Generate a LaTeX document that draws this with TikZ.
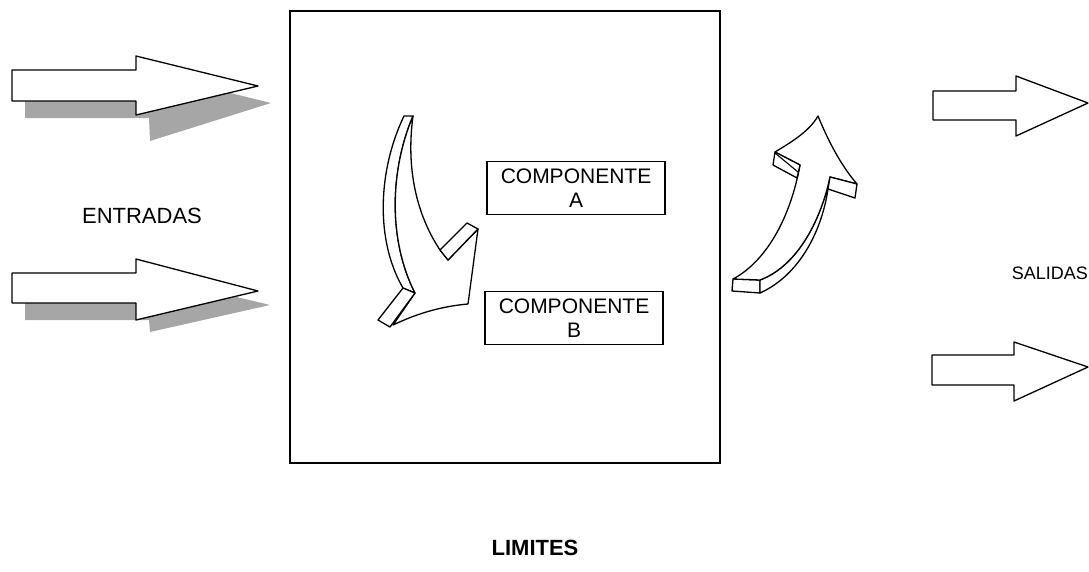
\documentclass[tikz,border=0pt]{standalone}
\usepackage{fontspec}
\setmainfont{Liberation Sans}
\begin{document}
\begin{tikzpicture}[x=1pt,y=-1pt,
  outline/.style={draw=black, line width=1.3pt, fill=white, line join=round},
  shadowfill/.style={fill=black!35, draw=none},
  label/.style={font=\fontsize{22}{25}\selectfont, align=center, inner sep=0pt},
  compbox/.style={draw=black, line width=1.3pt, minimum width=178pt, minimum height=53pt, font=\fontsize{21}{24}\selectfont, align=center, inner sep=0pt}]
\useasboundingbox (0,0) rectangle (1089,571);

% system boundary
\node[draw=black, line width=1.3pt, minimum width=430pt, minimum height=452pt, inner sep=0pt] (sys) at (505,237) {};

% components
\node[compbox] (ca) at (576,188) {COMPONENTE\\A};
\node[compbox] (cb) at (574,318) {COMPONENTE\\B};

% labels
\node[label] (ent) at (142,216) {ENTRADAS};
\node[label, font=\fontsize{18}{21}\selectfont, anchor=east] (sal) at (1088,273) {SALIDAS};
\node[label, font=\fontsize{22}{25}\selectfont\bfseries] (lim) at (535,548) {LIMITES};

% input arrows with shadows
\fill[shadowfill] (25,87) -- (149,87) -- (149,73) -- (271,103) -- (150,141) -- (149,118) -- (25,118) -- cycle;
\path[outline] (12,70) -- (136,70) -- (136,56) -- (258,86) -- (136,115) -- (136,101) -- (12,101) -- cycle;
\fill[shadowfill] (25,290) -- (149,290) -- (149,276) -- (270,305) -- (150,332) -- (149,320) -- (25,320) -- cycle;
\path[outline] (12,273) -- (136,273) -- (136,259) -- (258,291) -- (136,320) -- (136,303) -- (12,303) -- cycle;

% output arrows
\path[outline] (933,91) -- (1016,91) -- (1016,76) -- (1088,103) -- (1016,136) -- (1016,120) -- (933,120) -- cycle;
\path[outline] (932,355) -- (1014,355) -- (1014,342) -- (1088,367) -- (1014,401) -- (1014,385) -- (932,385) -- cycle;

% curved arrow from A to B
\path[outline] (404,116) .. controls (378,170) and (375,240) .. (403,288) -- (415,293)
  .. controls (388,240) and (390,170) .. (413,116) -- cycle;
\path[outline] (413,116) .. controls (390,170) and (388,240) .. (415,293) -- (393,325)
  .. controls (420,312) and (445,306) .. (468,304) -- (478,229) -- (448,260) -- (440,250)
  .. controls (420,220) and (405,175) .. (413,116) -- cycle;
\path[outline] (440,250) -- (467,223) -- (478,229) -- (448,260) -- cycle;
\path[outline] (403,288) -- (378,320) -- (390,327) -- (415,293) -- cycle;

% curved arrow from B to A
\path[outline] (733,279) -- (732,291) -- (760,293) -- (760,280) -- cycle;
\path[outline] (760,280) -- (760,293) .. controls (800,275) and (822,230) .. (828,189)
  -- (830,177) .. controls (822,215) and (800,265) .. (760,280) -- cycle;
\path[outline] (818,116) .. controls (832,150) and (845,170) .. (857,184) -- (830,177)
  .. controls (822,215) and (800,265) .. (760,280) -- (733,279)
  .. controls (765,262) and (790,220) .. (800,165) -- (775,152)
  .. controls (795,140) and (810,130) .. (818,116) -- cycle;
\path[outline] (830,177) -- (857,184) -- (855,198) -- (828,189) -- cycle;
\path[outline] (775,152) -- (773,165) -- (797,178) -- (800,165) -- cycle;
\draw[line width=1.1pt] (775,153) -- (798,172);
\end{tikzpicture}
\end{document}
